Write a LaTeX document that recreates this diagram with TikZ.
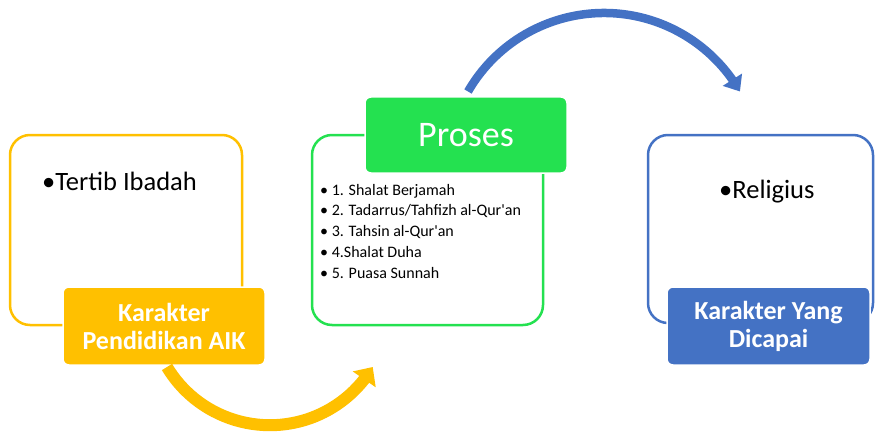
\documentclass[tikz,border=0pt]{standalone}
\usepackage{fontspec}
\setmainfont{Carlito}
\usetikzlibrary{arrows.meta,bending}

\definecolor{aikyellow}{HTML}{FFC000}
\definecolor{prosesgreen}{HTML}{24E150}
\definecolor{hasilblue}{HTML}{4472C4}

\begin{document}
\begin{tikzpicture}[x=1pt, y=1pt,
    bigbox/.style={draw=#1, line width=2.5pt, rounded corners=20pt,
        minimum height=190pt, inner sep=0pt},
    labelbox/.style={fill=#1, draw=white, line width=1.5pt, rounded corners=6pt,
        minimum width=202pt, minimum height=78pt, inner sep=0pt, text=white,
        align=center, font=\fontsize{26}{28}\selectfont\bfseries},
    bullettext/.style={anchor=west, inner sep=0pt, font=\fontsize{26.5}{30}\selectfont}
]

    \useasboundingbox (0, 0) rectangle (875, 432);

    %% Karakter Pendidikan AIK

    % Frame
    \node [bigbox=aikyellow, minimum width=232pt] (aikBox) at (126, 202) {};
    \node [bullettext] (aikText) at (42, 251) {•Tertib Ibadah};

    % Label
    \node [labelbox=aikyellow] (aikLabel) at (164, 106) {Karakter\\Pendidikan AIK};

    %% Proses

    % Frame
    \node [bigbox=prosesgreen, minimum width=231pt] (prosesBox) at (427.5, 202) {};
    \node [anchor=base west, inner sep=0pt, align=left,
        font=\fontsize{16}{20.7}\selectfont] (prosesList) at (320, 154)
        {• 1. Shalat Berjamah\\
         • 2. Tadarrus/Tahfizh al-Qur\textquotesingle an\\
         • 3. Tahsin al-Qur\textquotesingle an\\
         • 4.Shalat Duha\\
         • 5. Puasa Sunnah};

    % Label
    \node [labelbox=prosesgreen, minimum height=76pt,
        font=\fontsize{36}{40}\selectfont] (prosesLabel) at (466, 297) {Proses};

    %% Karakter Yang Dicapai

    % Frame
    \node [bigbox=hasilblue, minimum width=225pt, minimum height=188pt] (hasilBox) at (760.5, 203) {};
    \node [bullettext] (hasilText) at (719, 240) {•Religius};

    % Label
    \node [labelbox=hasilblue, minimum width=203pt] (hasilLabel) at (768.5, 106) {Karakter Yang\\Dicapai};

    %% Arrows

    % AIK to Proses
    \coordinate (aikStart) at (167, 65);
    \draw [aikyellow, line width=12pt, -{Triangle[length=15pt, width=27pt]}]
        (aikStart) arc [start angle=211, end angle=329, radius=120];

    % Proses to Dicapai
    \coordinate (prosesStart) at (468, 340.5);
    \draw [hasilblue, line width=8.5pt, -{Triangle[length=14pt, width=22pt]}]
        (prosesStart) arc [start angle=150, end angle=30, radius=157];

\end{tikzpicture}
\end{document}
